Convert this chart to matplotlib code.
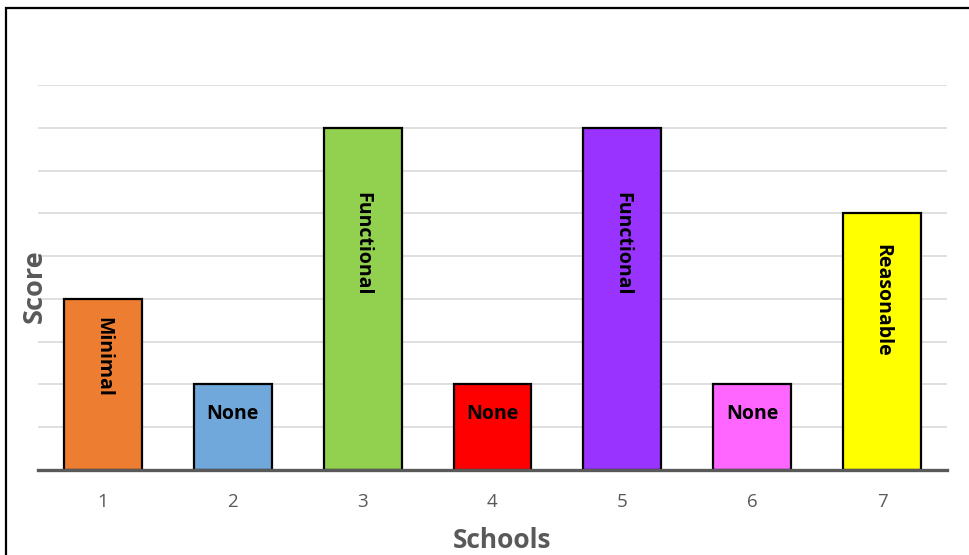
import matplotlib
matplotlib.use("Agg")
import matplotlib.pyplot as plt
from matplotlib.patches import Rectangle

# Chart data
schools = ["1", "2", "3", "4", "5", "6", "7"]
scores = [4, 2, 8, 2, 8, 2, 6]
ratings = ["Minimal", "None", "Functional", "None", "Functional", "None", "Reasonable"]
colors = ["#ED7D31", "#70A8DB", "#92D050", "#FF0000", "#9933FF", "#FF66FF", "#FFFF00"]

plt.rcParams["font.family"] = ["Open Sans", "DejaVu Sans"]

W, H = 970, 555
fig = plt.figure(figsize=(W / 100, H / 100), dpi=100)
ax = fig.add_axes([38 / W, (H - 470) / H, (947 - 38) / W, (470 - 85) / H])

x = list(range(len(schools)))
bars = ax.bar(x, scores, width=0.6, color=colors, edgecolor="black",
              linewidth=1.6, zorder=3)

for b, val, lab in zip(bars, scores, ratings):
    cx = b.get_x() + b.get_width() / 2
    rot = 0 if lab == "None" else -90
    ax.text(cx, val * 0.66, lab, rotation=rot, ha="center", va="center",
            fontsize=14, fontweight="bold", color="black", zorder=4)

ax.set_xlim(-0.5, len(schools) - 0.5)
ax.set_ylim(0, 9)
ax.set_yticks(range(1, 10))
ax.yaxis.grid(True, color="#D9D9D9", linewidth=1.2, zorder=0)
ax.set_axisbelow(True)
ax.tick_params(axis="y", left=False, labelleft=False)
ax.tick_params(axis="x", bottom=False, labelsize=13.5, labelcolor="#595959", pad=13)
ax.set_xticks(x)
ax.set_xticklabels(schools)

for s in ["top", "right", "left"]:
    ax.spines[s].set_visible(False)
ax.spines["bottom"].set_color("#595959")
ax.spines["bottom"].set_linewidth(2.4)
ax.spines["bottom"].set_zorder(5)

ax.set_xlabel("Schools", fontsize=19, fontweight="bold", color="#595959")
ax.xaxis.label.set_va("center")
ax.xaxis.set_label_coords((502 - 38) / 909, (470 - 540) / 385)
ax.set_ylabel("Score", fontsize=19.5, fontweight="bold", color="#595959")
ax.yaxis.label.set_va("center")
ax.yaxis.set_label_coords((35 - 38) / 909, (470 - 286) / 385)

# outer chart frame
fig.patches.append(Rectangle((6 / W, -0.1), 1.2, (H - 8) / H + 0.1,
                             transform=fig.transFigure, fill=False,
                             edgecolor="black", linewidth=1.6))

fig.savefig("out.png", dpi=100)
